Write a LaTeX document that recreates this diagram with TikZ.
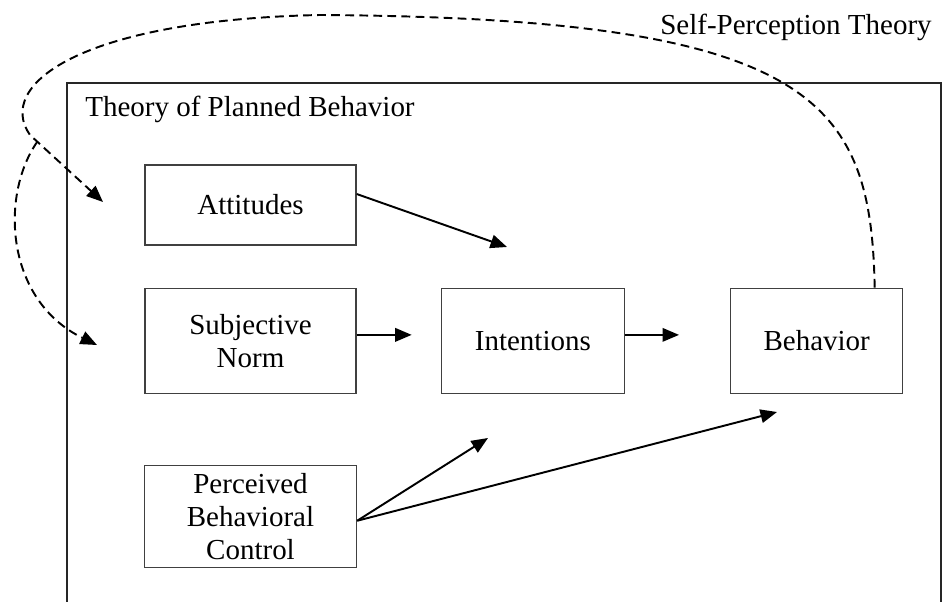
\documentclass[tikz,border=0pt]{standalone}
\usepackage{fontspec}
\setmainfont{Liberation Serif}
\usepackage{tikz}
\usetikzlibrary{arrows.meta,positioning,calc}

\begin{document}
\begin{tikzpicture}[
  x=0.02cm, y=-0.02cm,
  node distance=0.84cm,
  box/.style={rectangle, draw=black!75, line width=0.8pt, align=center, inner sep=0pt, font=\fontsize{16.5}{18.7}\selectfont},
  label/.style={anchor=base west, inner sep=0pt, font=\fontsize{16.5}{18.7}\selectfont},
  arrow/.style={-{Triangle[length=0.33cm,width=0.27cm]}, line width=1.1pt},
  feedback/.style={-{Triangle[length=0.33cm,width=0.27cm]}, line width=1.1pt, dash pattern=on 5pt off 3pt}
]
\path[use as bounding box, clip] (0,0) rectangle (942,601);

% Frame of the model
\draw[black!85, line width=0.9pt] (67,83) rectangle (941,640);
\node[label] (tpb) at (85,117) {Theory of Planned Behavior};
\node[label] (spt) at (660,35) {Self-Perception Theory};

% Boxes
\node[box, minimum width=4.22cm, minimum height=1.6cm] (att) at (250.5,205) {Attitudes};
\node[box, minimum width=4.22cm, minimum height=2.1cm, below=0.84cm of att] (sn) {Subjective\\Norm};
\node[box, minimum width=4.24cm, minimum height=2.04cm, below=1.42cm of sn] (pbc) {Perceived\\Behavioral\\Control};
\node[box, minimum width=3.66cm, minimum height=2.1cm, right=1.68cm of sn] (int) {Intentions};
\node[box, minimum width=3.44cm, minimum height=2.1cm, right=2.1cm of int] (beh) {Behavior};

% Arrow ends
\coordinate (outA) at ($(att.east)+(0,-11)$);
\coordinate (outS) at ($(sn.east)+(0,-6)$);
\coordinate (outI) at ($(int.east)+(0,-6)$);
\coordinate (outP) at ($(pbc.east)+(0,4)$);
\coordinate (tipA) at (507,247);
\coordinate (tipS) at ($(outS)+(55,0)$);
\coordinate (tipI) at ($(outI)+(54,0)$);
\coordinate (tipP1) at (488,438);
\coordinate (tipP2) at (777,412);

% Arrows
\draw[arrow] (outA) -- (tipA);
\draw[arrow] (outS) -- (tipS);
\draw[arrow] (outI) -- (tipI);
\draw[arrow] (outP) -- (tipP1);
\draw[arrow] (outP) -- (tipP2);

% Feedback loop
\coordinate (top) at (320,15);
\coordinate (bend) at (30,135);
\coordinate (tipFA) at (103,202);
\coordinate (tipFS) at (97,345);
\coordinate (fork) at ($(bend)!0.1!(tipFA)$);
\draw[feedback] ([xshift=1.16cm]beh.north) .. controls (871,100) and (815,18) .. (top)
  .. controls (80,20) and (-5,85) .. (bend) -- (tipFA);
\draw[feedback] (fork) .. controls (0,195) and (5,300) .. (tipFS);

\end{tikzpicture}
\end{document}
